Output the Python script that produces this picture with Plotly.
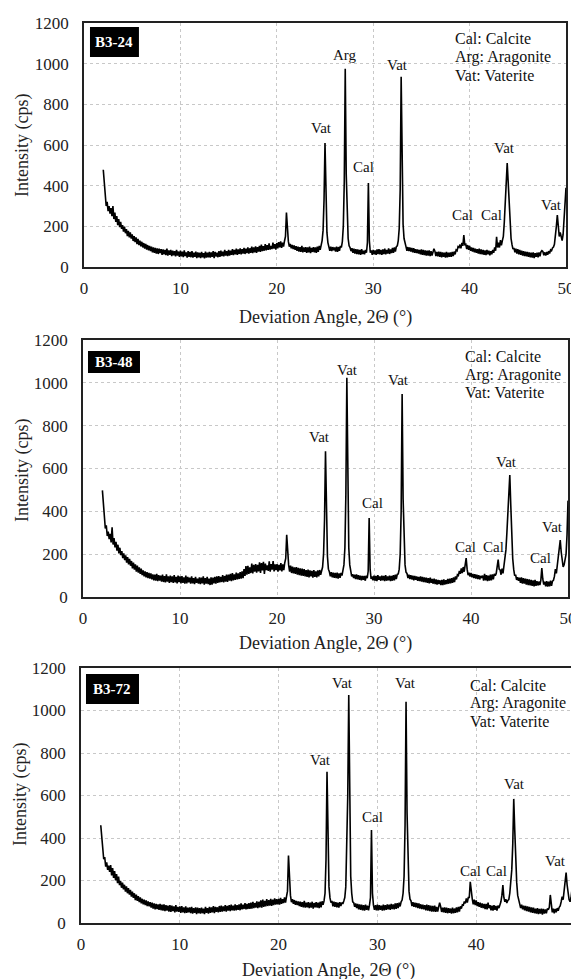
import numpy as np
import plotly.graph_objects as go

# ---------------- DATA ----------------
# 2-theta sampling grid: 2.0 .. 50.0 deg in 0.1 deg steps (one row = one degree)
two_theta = np.round(np.arange(2.0, 50.0001, 0.1), 1)

b3_24_rows = [
    [478, 400, 350, 300, 320, 275, 300, 262, 290, 250],   # 2
    [300, 236, 268, 222, 250, 206, 236, 196, 222, 188],   # 3
    [206, 174, 198, 166, 186, 152, 178, 146, 170, 140],   # 4
    [160, 128, 152, 122, 146, 112, 138, 108, 130, 102],   # 5
    [124, 96, 118, 90, 114, 86, 108, 82, 104, 78],        # 6
    [100, 72, 96, 70, 94, 66, 92, 64, 90, 68],            # 7
    [88, 60, 86, 62, 84, 58, 90, 56, 82, 60],             # 8
    [84, 54, 80, 58, 78, 52, 84, 56, 76, 50],             # 9
    [80, 52, 76, 48, 82, 54, 72, 46, 78, 50],             # 10
    [74, 48, 78, 46, 70, 50, 76, 44, 72, 48],             # 11
    [70, 44, 74, 48, 68, 42, 76, 46, 70, 48],             # 12
    [74, 46, 72, 50, 78, 44, 74, 52, 70, 48],             # 13
    [78, 50, 80, 54, 76, 52, 84, 56, 78, 54],             # 14
    [84, 56, 80, 60, 88, 58, 84, 62, 90, 60],             # 15
    [86, 64, 92, 62, 88, 66, 94, 64, 90, 68],             # 16
    [96, 66, 92, 70, 100, 68, 96, 72, 102, 70],           # 17
    [98, 76, 104, 74, 110, 78, 102, 80, 112, 82],         # 18
    [108, 84, 116, 86, 104, 88, 120, 90, 112, 86],        # 19
    [118, 92, 122, 96, 126, 94, 120, 100, 128, 150],      # 20
    [268, 165, 126, 100, 114, 92, 108, 88, 106, 84],      # 21
    [102, 80, 100, 76, 98, 74, 104, 72, 96, 74],          # 22
    [98, 70, 96, 72, 100, 68, 94, 74, 98, 72],            # 23
    [96, 70, 100, 74, 104, 84, 104, 130, 180, 330],       # 24
    [610, 340, 170, 120, 104, 80, 100, 78, 98, 82],       # 25
    [96, 76, 100, 74, 98, 80, 104, 96, 125, 200],         # 26
    [420, 975, 460, 220, 140, 104, 96, 78, 92, 70],       # 27
    [90, 66, 88, 64, 86, 62, 84, 60, 88, 64],             # 28
    [80, 62, 84, 70, 120, 413, 130, 70, 82, 60],          # 29
    [84, 62, 82, 60, 86, 64, 88, 62, 84, 60],             # 30
    [86, 64, 90, 62, 84, 66, 92, 64, 86, 68],             # 31
    [94, 70, 96, 76, 100, 104, 130, 190, 380, 935],       # 32
    [450, 210, 140, 110, 100, 80, 98, 78, 96, 76],        # 33
    [94, 72, 92, 70, 88, 68, 86, 66, 84, 62],             # 34
    [86, 60, 84, 58, 82, 56, 80, 56, 82, 54],             # 35
    [78, 56, 80, 90, 78, 54, 74, 52, 76, 50],             # 36
    [74, 48, 72, 50, 70, 46, 74, 48, 70, 50],             # 37
    [72, 50, 74, 54, 76, 62, 84, 80, 100, 96],            # 38
    [110, 92, 118, 104, 157, 110, 112, 88, 108, 84],      # 39
    [104, 80, 96, 76, 94, 72, 90, 70, 88, 66],            # 40
    [90, 64, 86, 62, 84, 60, 82, 58, 84, 62],             # 41
    [80, 58, 78, 62, 84, 70, 96, 80, 148, 96],            # 42
    [120, 96, 132, 106, 130, 150, 220, 330, 440, 511],    # 43
    [420, 300, 200, 140, 110, 88, 94, 72, 90, 66],        # 44
    [88, 62, 84, 60, 80, 56, 78, 54, 76, 52],             # 45
    [74, 50, 72, 48, 70, 46, 72, 44, 68, 50],             # 46
    [70, 48, 72, 52, 74, 80, 76, 58, 72, 56],             # 47
    [74, 60, 78, 66, 84, 80, 94, 98, 112, 150],           # 48
    [200, 256, 190, 150, 170, 140, 130, 160, 240, 330],   # 49
    [390],                                                # 50
]

b3_48_rows = [
    [498, 420, 370, 320, 335, 285, 305, 270, 295, 255],   # 2
    [325, 245, 275, 232, 258, 216, 244, 204, 230, 196],   # 3
    [214, 182, 204, 172, 194, 160, 186, 152, 178, 146],   # 4
    [168, 134, 160, 128, 152, 118, 146, 114, 138, 108],   # 5
    [132, 102, 124, 96, 120, 92, 116, 88, 112, 86],       # 6
    [110, 82, 106, 78, 104, 76, 108, 74, 102, 76],        # 7
    [100, 72, 104, 70, 98, 68, 106, 72, 96, 66],          # 8
    [100, 70, 96, 66, 102, 68, 94, 64, 100, 70],          # 9
    [96, 64, 98, 66, 92, 62, 100, 64, 94, 68],            # 10
    [90, 62, 96, 64, 88, 60, 94, 66, 86, 62],             # 11
    [92, 60, 90, 64, 96, 58, 88, 62, 94, 60],             # 12
    [86, 56, 92, 58, 90, 64, 94, 62, 96, 66],             # 13
    [98, 68, 94, 70, 102, 68, 98, 72, 104, 70],           # 14
    [104, 76, 108, 74, 112, 78, 106, 80, 114, 82],        # 15
    [110, 84, 116, 86, 120, 88, 130, 98, 144, 104],       # 16
    [146, 108, 138, 112, 156, 110, 150, 118, 154, 114],   # 17
    [150, 120, 162, 112, 158, 124, 164, 108, 156, 126],   # 18
    [148, 122, 166, 118, 154, 128, 168, 120, 152, 126],   # 19
    [154, 118, 150, 124, 158, 120, 152, 126, 160, 180],   # 20
    [290, 190, 150, 118, 146, 112, 142, 110, 138, 108],   # 21
    [140, 104, 136, 102, 134, 100, 132, 98, 130, 96],     # 22
    [126, 94, 128, 92, 124, 96, 122, 90, 126, 94],        # 23
    [120, 92, 124, 96, 126, 104, 118, 140, 200, 360],     # 24
    [680, 380, 190, 130, 118, 96, 116, 92, 114, 90],      # 25
    [112, 88, 114, 86, 110, 90, 112, 100, 120, 150],      # 26
    [230, 480, 1024, 500, 230, 150, 120, 96, 106, 88],    # 27
    [104, 84, 106, 82, 102, 80, 100, 78, 98, 80],         # 28
    [98, 76, 100, 88, 120, 369, 130, 84, 96, 78],         # 29
    [100, 76, 98, 74, 102, 80, 96, 76, 100, 78],          # 30
    [98, 74, 102, 76, 96, 78, 100, 74, 98, 76],           # 31
    [102, 78, 104, 84, 106, 108, 130, 200, 400, 948],     # 32
    [460, 220, 150, 116, 110, 88, 104, 84, 102, 82],      # 33
    [100, 78, 98, 80, 96, 76, 94, 74, 96, 72],            # 34
    [94, 70, 92, 68, 90, 66, 88, 64, 90, 66],             # 35
    [84, 62, 86, 60, 82, 58, 80, 60, 78, 56],             # 36
    [80, 56, 82, 58, 78, 60, 84, 62, 86, 64],             # 37
    [88, 66, 92, 70, 96, 82, 104, 100, 122, 108],         # 38
    [134, 112, 140, 118, 144, 182, 130, 102, 114, 96],    # 39
    [112, 92, 108, 88, 106, 86, 104, 84, 102, 82],        # 40
    [98, 92, 100, 76, 108, 78, 102, 74, 100, 76],         # 41
    [104, 78, 106, 82, 108, 100, 110, 150, 175, 130],     # 42
    [126, 104, 132, 110, 140, 170, 220, 300, 400, 490],   # 43
    [570, 430, 280, 180, 130, 100, 104, 80, 92, 76],      # 44
    [90, 66, 92, 62, 88, 62, 86, 58, 84, 56],             # 45
    [82, 54, 80, 52, 78, 50, 80, 52, 74, 54],             # 46
    [72, 56, 78, 135, 84, 58, 72, 50, 74, 48],            # 47
    [72, 50, 76, 52, 74, 78, 96, 130, 110, 150],          # 48
    [200, 240, 266, 210, 160, 140, 150, 170, 200, 290],   # 49
    [450],                                                # 50
]

b3_72_rows = [
    [460, 390, 340, 300, 310, 265, 285, 250, 270, 240],   # 2
    [272, 224, 258, 212, 244, 200, 230, 188, 218, 178],   # 3
    [198, 166, 190, 158, 180, 148, 172, 140, 164, 134],   # 4
    [156, 124, 148, 118, 140, 108, 134, 104, 126, 98],    # 5
    [120, 92, 114, 88, 110, 84, 106, 80, 102, 78],        # 6
    [98, 72, 96, 68, 92, 64, 90, 66, 88, 62],             # 7
    [90, 60, 86, 58, 88, 56, 84, 58, 82, 54],             # 8
    [84, 52, 82, 56, 78, 50, 84, 54, 76, 52],             # 9
    [78, 48, 80, 50, 74, 46, 78, 48, 72, 50],             # 10
    [74, 46, 76, 44, 70, 48, 74, 42, 72, 46],             # 11
    [70, 44, 72, 46, 68, 42, 76, 48, 70, 44],             # 12
    [76, 48, 74, 50, 80, 46, 76, 52, 74, 50],             # 13
    [80, 52, 82, 54, 78, 56, 84, 54, 80, 58],             # 14
    [84, 56, 86, 60, 82, 58, 88, 60, 84, 62],             # 15
    [88, 60, 92, 64, 86, 66, 94, 64, 90, 66],             # 16
    [94, 66, 96, 68, 100, 70, 94, 72, 102, 70],           # 17
    [100, 74, 106, 72, 110, 76, 104, 78, 112, 80],        # 18
    [108, 82, 114, 80, 110, 84, 116, 86, 112, 88],        # 19
    [114, 86, 118, 90, 112, 94, 120, 96, 124, 150],       # 20
    [318, 200, 130, 98, 112, 90, 108, 86, 104, 84],       # 21
    [102, 80, 100, 76, 98, 74, 104, 72, 96, 74],          # 22
    [98, 70, 96, 72, 100, 68, 94, 74, 98, 72],            # 23
    [96, 70, 100, 74, 102, 86, 104, 140, 300, 712],       # 24
    [360, 170, 118, 96, 104, 78, 100, 76, 98, 74],        # 25
    [96, 72, 98, 80, 96, 90, 104, 120, 170, 330],         # 26
    [600, 1073, 500, 220, 140, 100, 96, 76, 92, 70],      # 27
    [90, 64, 88, 62, 86, 60, 84, 58, 86, 62],             # 28
    [82, 60, 84, 120, 438, 140, 84, 62, 84, 60],          # 29
    [86, 60, 84, 62, 82, 58, 86, 60, 84, 62],             # 30
    [88, 64, 86, 62, 90, 66, 88, 64, 92, 66],             # 31
    [94, 70, 96, 78, 100, 108, 140, 220, 460, 1041],      # 32
    [520, 240, 150, 112, 104, 80, 98, 76, 96, 74],        # 33
    [94, 70, 92, 68, 88, 66, 86, 64, 84, 60],             # 34
    [86, 58, 84, 56, 82, 54, 80, 54, 82, 52],             # 35
    [76, 54, 80, 96, 78, 52, 72, 50, 74, 48],             # 36
    [72, 46, 70, 48, 68, 44, 72, 46, 68, 48],             # 37
    [74, 50, 76, 54, 78, 68, 86, 84, 102, 92],            # 38
    [116, 96, 120, 120, 194, 130, 114, 88, 110, 84],      # 39
    [106, 80, 98, 76, 96, 72, 92, 70, 90, 66],            # 40
    [90, 64, 96, 70, 84, 60, 82, 58, 84, 62],             # 41
    [80, 58, 82, 70, 86, 100, 130, 179, 120, 100],        # 42
    [112, 94, 106, 110, 140, 180, 250, 370, 584, 440],    # 43
    [290, 190, 130, 100, 90, 70, 86, 64, 82, 60],         # 44
    [80, 56, 78, 54, 76, 50, 74, 48, 72, 46],             # 45
    [68, 44, 70, 42, 66, 44, 68, 40, 66, 44],             # 46
    [64, 46, 68, 62, 74, 132, 78, 50, 68, 46],            # 47
    [66, 50, 70, 58, 74, 80, 100, 124, 110, 150],         # 48
    [200, 237, 180, 130, 110, 100, 120, 160, 220, 270],   # 49
    [300],                                                # 50
]

sample_names = ["B3-24", "B3-48", "B3-72"]

# peak labels (text, 2theta, intensity) for each sample
labels_b3_24 = [("Vat", 24.6, 684), ("Arg", 27.1, 1043), ("Cal", 29.0, 492), ("Vat", 32.5, 993),
                ("Cal", 39.3, 256), ("Cal", 42.3, 256), ("Vat", 43.6, 585), ("Vat", 48.5, 305)]
labels_b3_48 = [("Vat", 24.4, 747), ("Vat", 27.3, 1060), ("Cal", 29.8, 439), ("Vat", 32.5, 1013),
                ("Cal", 39.4, 234), ("Cal", 42.3, 234), ("Vat", 43.7, 630), ("Cal", 47.2, 182),
                ("Vat", 48.4, 327)]
labels_b3_72 = [("Vat", 24.2, 767), ("Vat", 26.5, 1129), ("Cal", 29.5, 499), ("Vat", 32.8, 1129),
                ("Cal", 39.4, 245), ("Cal", 42.1, 245), ("Vat", 43.9, 654), ("Vat", 48.0, 292)]

key_lines = ["Cal: Calcite", "Arg: Aragonite", "Vat: Vaterite"]

x_ticks = [0, 10, 20, 30, 40, 50]
y_ticks = [0, 200, 400, 600, 800, 1000, 1200]

# ---------------- FIGURE ----------------
OFF = 8                      # page body margin of the html output
W, H = 579 - OFF, 979 - OFF  # figure size so that it fills the window
FONT = "Liberation Serif"

def flat(rows):
    return [v for r in rows for v in r]

def px(xp):
    return (xp - OFF) / W

def py(yp):
    return 1 - (yp - OFF) / H

series = [flat(b3_24_rows), flat(b3_48_rows), flat(b3_72_rows)]
label_sets = [labels_b3_24, labels_b3_48, labels_b3_72]

# plot boxes in window pixels: (left, right, top, bottom)
boxes = [(84, 566, 23, 267), (83, 568, 340, 597), (81, 575, 668, 923)]
# legend key anchor (2theta, first line intensity, line step)
key_pos = [(38.3, 1126, 91), (39.2, 1122, 84), (39.2, 1120, 85)]
# sample tag box (domain fractions)
tag_boxes = [(0.0124, 0.114, 0.861, 0.984), (0.0103, 0.1175, 0.872, 0.957), (0.0101, 0.1174, 0.859, 0.976)]
ytitle_pos = [(22, 146), (22, 471), (20, 795)]
xtitle_y = [317, 643, 970]

fig = go.Figure()
annotations = []
shapes = []

for i in range(3):
    l, r, t, b = boxes[i]
    xa = "xaxis" if i == 0 else f"xaxis{i+1}"
    ya = "yaxis" if i == 0 else f"yaxis{i+1}"
    xr = "x" if i == 0 else f"x{i+1}"
    yr = "y" if i == 0 else f"y{i+1}"

    fig.add_trace(go.Scatter(x=two_theta, y=series[i], mode="lines",
                             line=dict(color="black", width=1.6),
                             xaxis=xr, yaxis=yr, showlegend=False))

    fig.update_layout(**{
        xa: dict(domain=[px(l), px(r)], range=[0, 50], tickvals=x_ticks,
                 showgrid=True, gridcolor="#c8c8c8", griddash="dot", gridwidth=1,
                 showline=True, linecolor="#222", linewidth=1.5, mirror=True,
                 zeroline=False, ticks="", ticklabelstandoff=5,
                 tickfont=dict(family=FONT, size=17, color="#222"),
                 anchor=yr, automargin=False),
        ya: dict(domain=[py(b), py(t)], range=[0, 1200], tickvals=y_ticks,
                 showgrid=True, gridcolor="#c8c8c8", griddash="dot", gridwidth=1,
                 showline=True, linecolor="#222", linewidth=1.5, mirror=True,
                 zeroline=False, ticks="", ticklabelstandoff=10,
                 tickfont=dict(family=FONT, size=17, color="#222"),
                 anchor=xr, automargin=False),
    })

    # peak labels
    for txt, xv, yv in label_sets[i]:
        annotations.append(dict(x=xv, y=yv, xref=xr, yref=yr, text=txt, showarrow=False,
                                xanchor="center", yanchor="middle",
                                font=dict(family=FONT, size=15, color="#111")))
    # key
    kx, ky, kstep = key_pos[i]
    for j, line in enumerate(key_lines):
        annotations.append(dict(x=kx, y=ky - j * kstep, xref=xr, yref=yr, text=line,
                                showarrow=False, xanchor="left", yanchor="middle",
                                font=dict(family=FONT, size=16, color="#111")))
    # sample tag
    x0, x1, y0, y1 = tag_boxes[i]
    shapes.append(dict(type="rect", xref=f"{xr} domain", yref=f"{yr} domain",
                       x0=x0, x1=x1, y0=y0, y1=y1, fillcolor="black", line=dict(width=0)))
    annotations.append(dict(x=(x0 + x1) / 2, y=(y0 + y1) / 2, xref=f"{xr} domain",
                            yref=f"{yr} domain", text="<b>" + sample_names[i] + "</b>",
                            showarrow=False, xanchor="center", yanchor="middle",
                            font=dict(family=FONT, size=15, color="white")))
    # axis titles
    tx, ty = ytitle_pos[i]
    annotations.append(dict(x=px(tx), y=py(ty), xref="paper", yref="paper",
                            text="Intensity (cps)", textangle=-90, showarrow=False,
                            xanchor="center", yanchor="middle",
                            font=dict(family=FONT, size=18, color="#222")))
    annotations.append(dict(x=px((l + r) / 2), y=py(xtitle_y[i]), xref="paper", yref="paper",
                            text="Deviation Angle, 2\u0398 (\u00b0)", showarrow=False,
                            xanchor="center", yanchor="middle",
                            font=dict(family=FONT, size=18, color="#222")))

fig.update_layout(width=W, height=H, margin=dict(l=0, r=0, t=0, b=0),
                  paper_bgcolor="white", plot_bgcolor="white",
                  annotations=annotations, shapes=shapes, showlegend=False)

fig.write_html("out.html")
